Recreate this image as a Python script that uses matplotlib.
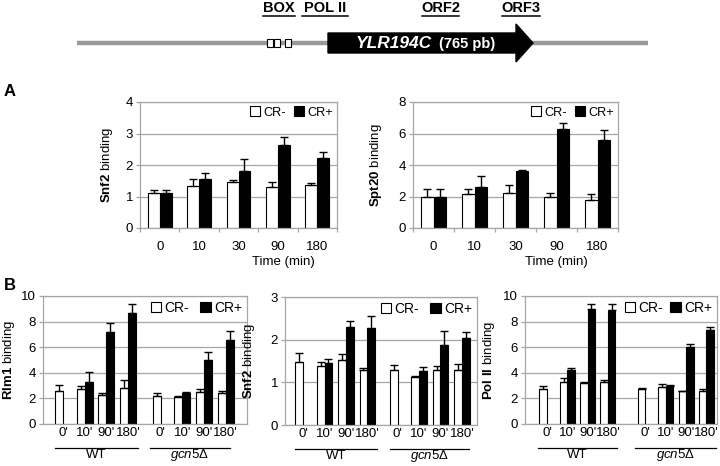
import numpy as np
import matplotlib
matplotlib.use("Agg")
import matplotlib.pyplot as plt
from matplotlib.patches import Patch, Polygon, Rectangle
from matplotlib.transforms import blended_transform_factory

plt.rcParams["font.family"] = ["Liberation Sans", "DejaVu Sans"]
plt.rcParams["mathtext.fontset"] = "custom"
plt.rcParams["mathtext.rm"] = "Liberation Sans"
plt.rcParams["mathtext.bf"] = "Liberation Sans:bold"
plt.rcParams["mathtext.it"] = "Liberation Sans:italic"

# ---------------- data ---------------- #
time_labels = ["0", "10", "30", "90", "180"]

snf2_a_minus = [1.1, 1.33, 1.45, 1.3, 1.35]
snf2_a_minus_err = [0.1, 0.22, 0.06, 0.16, 0.08]
snf2_a_plus = [1.1, 1.57, 1.8, 2.65, 2.22]
snf2_a_plus_err = [0.1, 0.17, 0.4, 0.25, 0.19]

spt20_minus = [2.0, 2.15, 2.2, 2.0, 1.75]
spt20_minus_err = [0.45, 0.35, 0.55, 0.2, 0.4]
spt20_plus = [2.0, 2.6, 3.6, 6.3, 5.6]
spt20_plus_err = [0.45, 0.7, 0.1, 0.35, 0.62]

b_labels = ["0'", "10'", "90'", "180'", "0'", "10'", "90'", "180'"]
strains = ["WT", r"$\it{gcn5}$Δ"]

rlm1_minus = [2.6, 2.7, 2.3, 2.8, 2.15, 2.1, 2.5, 2.4]
rlm1_minus_err = [0.45, 0.25, 0.1, 0.6, 0.3, 0.12, 0.25, 0.15]
rlm1_plus = [np.nan, 3.3, 7.2, 8.7, np.nan, 2.4, 5.0, 6.6]
rlm1_plus_err = [0, 0.75, 0.7, 0.65, 0, 0.1, 0.65, 0.7]

snf2_b_minus = [1.48, 1.38, 1.52, 1.3, 1.3, 1.12, 1.3, 1.3]
snf2_b_minus_err = [0.2, 0.1, 0.15, 0.03, 0.1, 0.02, 0.08, 0.12]
snf2_b_plus = [np.nan, 1.45, 2.3, 2.28, np.nan, 1.27, 1.87, 2.03]
snf2_b_plus_err = [0, 0.1, 0.13, 0.28, 0, 0.08, 0.33, 0.14]

pol2_minus = [2.75, 3.3, 3.2, 3.3, 2.75, 2.9, 2.55, 2.6]
pol2_minus_err = [0.25, 0.3, 0.1, 0.1, 0.05, 0.2, 0.02, 0.1]
pol2_plus = [np.nan, 4.2, 9.0, 8.9, np.nan, 3.0, 6.05, 7.35]
pol2_plus_err = [0, 0.2, 0.4, 0.45, 0, 0.07, 0.18, 0.2]

GRAY = "#a6a6a6"


def style_axes(ax, ymax, ystep, ylabel, ylab_x, leg_size, colsp):
    ax.set_ylim(0, ymax)
    ax.set_yticks(np.arange(0, ymax + 0.01, ystep))
    ax.yaxis.grid(True, color=GRAY, lw=0.9)
    ax.set_axisbelow(True)
    for s in ax.spines.values():
        s.set_color(GRAY)
        s.set_linewidth(0.9)
    ax.tick_params(axis="y", colors=GRAY, labelcolor="black", labelsize=9.5, length=3, width=0.9, pad=2)
    ax.set_ylabel(ylabel, fontsize=9.5)
    ax.yaxis.set_label_coords(ylab_x, 0.5)
    ax.legend(handles=[Patch(facecolor="white", edgecolor="black", lw=0.8, label="CR-"),
                       Patch(facecolor="black", edgecolor="black", lw=0.8, label="CR+")],
              loc="upper right", ncol=2, frameon=False, fontsize=leg_size,
              handlelength=0.75, handleheight=0.75, handletextpad=0.25,
              columnspacing=colsp, borderaxespad=0.05, borderpad=0.3)


def draw_bars(ax, x, minus, minus_err, plus, plus_err, w):
    minus = np.array(minus, float)
    plus = np.array(plus, float)
    ok = ~np.isnan(plus)
    ax.bar(x - w / 2, minus, w, color="white", edgecolor="black", lw=0.8)
    ax.bar(x[ok] + w / 2, plus[ok], w, color="black", edgecolor="black", lw=0.8)
    ax.errorbar(x - w / 2, minus, yerr=[np.zeros(len(minus)), minus_err], fmt="none",
                ecolor="black", elinewidth=1.0, capsize=3, capthick=1.0)
    ax.errorbar(x[ok] + w / 2, plus[ok], yerr=[np.zeros(ok.sum()), np.array(plus_err)[ok]],
                fmt="none", ecolor="black", elinewidth=1.0, capsize=3, capthick=1.0)


def panel_a(rect, minus, minus_err, plus, plus_err, ymax, ystep, ylabel, ylab_x, xlab_x):
    ax = fig.add_axes(rect)
    x = np.arange(len(time_labels))
    draw_bars(ax, x, minus, minus_err, plus, plus_err, 0.3)
    ax.set_xlim(-0.5, len(time_labels) - 0.5)
    ax.set_xticks(x)
    ax.set_xticklabels(time_labels, fontsize=9.5)
    ax.set_xticks(np.arange(-0.5, len(time_labels)), minor=True)
    ax.tick_params(axis="x", which="major", length=0, pad=9)
    ax.tick_params(axis="x", which="minor", length=3, color=GRAY, width=0.9)
    ax.set_xlabel("Time (min)", fontsize=9.5)
    ax.xaxis.set_label_coords(xlab_x, -0.225)
    style_axes(ax, ymax, ystep, ylabel, ylab_x, 9.2, 0.65)
    return ax


def panel_b(rect, minus, minus_err, plus, plus_err, ymax, ystep, ylabel, ylab_x,
            gap, xlim, spans, colsp):
    ax = fig.add_axes(rect)
    x = np.r_[np.arange(4), np.arange(4) + 3 + gap]
    draw_bars(ax, x, minus, minus_err, plus, plus_err, 0.37)
    ax.set_xlim(*xlim)
    ax.set_xticks(x)
    ax.set_xticklabels(b_labels, fontsize=9.5)
    ax.tick_params(axis="x", length=0, pad=2.5)
    style_axes(ax, ymax, ystep, ylabel, ylab_x, 10, colsp)
    tr = blended_transform_factory(ax.transData, ax.transAxes)
    for (x0, x1), name in zip(spans, strains):
        ax.plot([x0, x1], [-0.19, -0.19], color="black", lw=0.9, transform=tr, clip_on=False)
        ax.text((x0 + x1) / 2, -0.245, name, transform=tr, ha="center", va="center", fontsize=9.5)
    return ax


fig = plt.figure(figsize=(7.2, 4.66), dpi=100)

# ---------------- gene diagram ---------------- #
dg = fig.add_axes([0, 1 - 66 / 466, 1, 66 / 466])
dg.set_xlim(0, 720)
dg.set_ylim(66, 0)
dg.axis("off")
dg.plot([77, 648], [43, 43], color="#999999", lw=3.2, solid_capstyle="butt", zorder=1)
dg.add_patch(Polygon([[328, 33], [516, 33], [516, 24], [533, 43], [516, 62], [516, 53], [328, 53]],
                     closed=True, facecolor="black", edgecolor="black", zorder=2))
for bx in [267, 274, 285]:
    dg.add_patch(Rectangle((bx, 39), 6, 8, facecolor="white", edgecolor="black", lw=0.8, zorder=3))
dg.text(356, 43, "YLR194C", color="white", fontsize=12.5, fontweight="bold",
        fontstyle="italic", va="center", ha="left", zorder=4)
dg.text(439, 44, "(765 pb)", color="white", fontsize=10.5, fontweight="bold",
        va="center", ha="left", zorder=4)
for label, x0, x1 in [("BOX", 263, 295), ("POL II", 302, 348), ("ORF2", 422, 459), ("ORF3", 502, 540)]:
    dg.text((x0 + x1) / 2, 8, label, fontsize=10.5, fontweight="bold", ha="center", va="center")
    dg.plot([x0, x1], [16, 16], color="black", lw=1.1)

# ---------------- panel A ---------------- #
panel_a([140 / 720, 1 - 228 / 466, 197 / 720, 126 / 466],
        snf2_a_minus, snf2_a_minus_err, snf2_a_plus, snf2_a_plus_err,
        4, 1, r"$\bf{Snf2}$ binding", -0.127, 0.73)
panel_a([413 / 720, 1 - 228 / 466, 205 / 720, 126 / 466],
        spt20_minus, spt20_minus_err, spt20_plus, spt20_plus_err,
        8, 2, r"$\bf{Spt20}$ binding", -0.141, 0.70)

# ---------------- panel B ---------------- #
panel_b([43 / 720, 1 - 424 / 466, 204 / 720, 128 / 466],
        rlm1_minus, rlm1_minus_err, rlm1_plus, rlm1_plus_err,
        10, 2, r"$\bf{Rlm1}$ binding", -0.127,
        1.5, (-0.92, 8.48), [(-0.37, 3.46), (4.0, 7.7)], 0.8)
panel_b([285 / 720, 1 - 425 / 466, 192 / 720, 128 / 466],
        snf2_b_minus, snf2_b_minus_err, snf2_b_plus, snf2_b_plus_err,
        3, 1, r"$\bf{Snf2}$ binding", -0.146,
        1.4, (-0.84, 8.1), [(-0.37, 3.44), (4.05, 7.72)], 0.8)
panel_b([525 / 720, 1 - 424 / 466, 192 / 720, 128 / 466],
        pol2_minus, pol2_minus_err, pol2_plus, pol2_plus_err,
        10, 2, r"$\bf{Pol\ II}$ binding", -0.146,
        1.85, (-1.08, 8.37), [(-0.44, 3.45), (4.33, 8.3)], 0.5)

fig.text(4 / 720, 1 - 91 / 466, "A", fontsize=12, fontweight="bold", va="center")
fig.text(4 / 720, 1 - 285 / 466, "B", fontsize=12, fontweight="bold", va="center")

fig.savefig("out.png", dpi=100)
